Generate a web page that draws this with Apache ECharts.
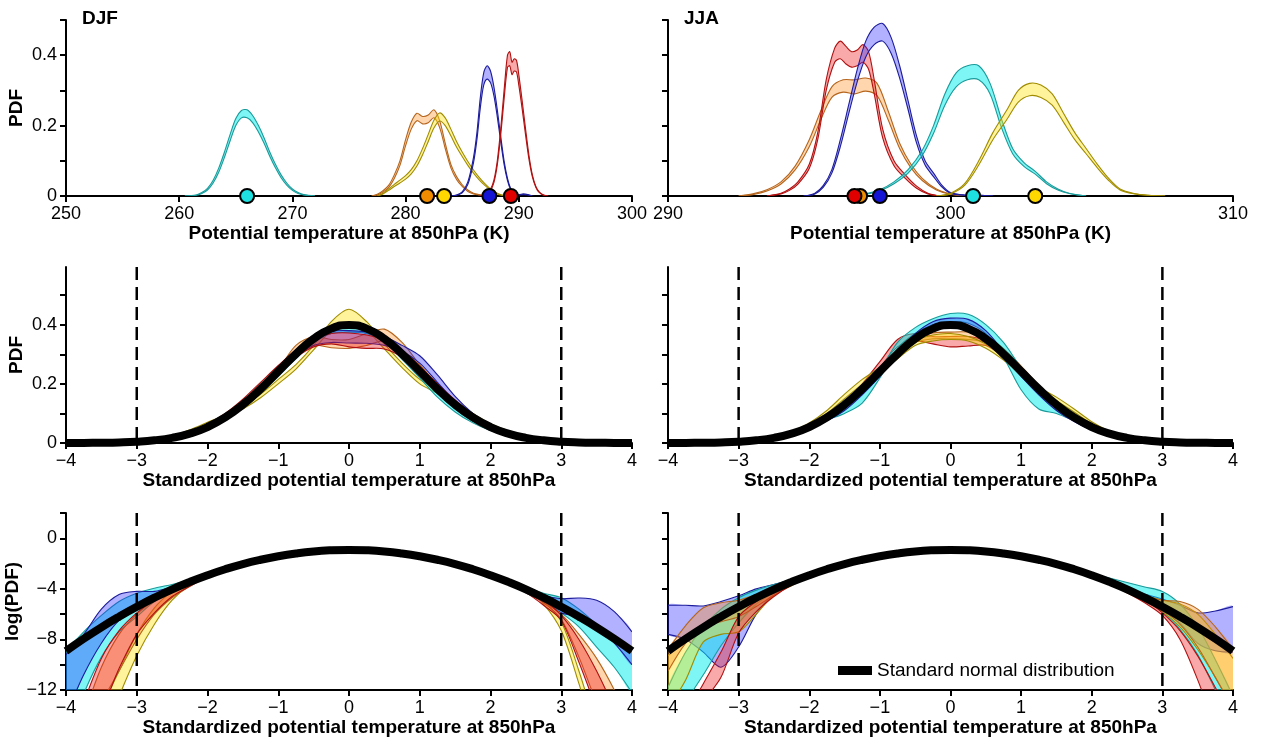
<!DOCTYPE html>
<html>
<head>
<meta charset="utf-8">
<script src="https://cdn.jsdelivr.net/npm/echarts@6/dist/echarts.min.js"></script>
<style>
  html, body { margin: 0; padding: 0; background: #fff; }
  #chart { width: 1262px; height: 740px; }
</style>
</head>
<body>
<div id="chart"></div>
<script>
// ---------- Potential temperature PDFs, DJF (K) ----------
const djfCyanX = [260.5,261.5,262,262.5,263,263.5,264,264.5,265,265.5,266,266.5,267,267.5,268,268.5,269,269.5,270,270.5,271,272];
const djfCyanHi = [0,0.003,0.01,0.022,0.045,0.08,0.125,0.175,0.22,0.243,0.245,0.228,0.2,0.165,0.125,0.09,0.06,0.037,0.02,0.01,0.004,0];
const djfCyanLo = [0,0.002,0.007,0.017,0.037,0.068,0.11,0.157,0.2,0.222,0.222,0.208,0.182,0.15,0.113,0.08,0.052,0.031,0.016,0.007,0.003,0];

const djfOrangeX = [277,277.5,278,278.5,279,279.5,280,280.5,281,281.5,282,282.5,283,283.5,284,284.5,285,285.5,286,286.5,287,288];
const djfOrangeHi = [0,0.005,0.015,0.03,0.06,0.1,0.16,0.21,0.235,0.226,0.23,0.245,0.215,0.15,0.09,0.055,0.032,0.017,0.008,0.004,0.001,0];
const djfOrangeLo = [0,0.003,0.011,0.024,0.05,0.087,0.143,0.19,0.214,0.205,0.208,0.222,0.195,0.135,0.08,0.047,0.027,0.013,0.006,0.003,0.001,0];

const djfYellowX = [277.5,278,278.5,279,279.5,280,280.5,281,281.5,282,282.5,283,283.5,284,284.5,285,285.5,286,286.5,287,287.5,288,288.5,289.5];
const djfYellowHi = [0,0.008,0.02,0.033,0.045,0.058,0.075,0.1,0.135,0.175,0.215,0.236,0.222,0.19,0.155,0.125,0.098,0.074,0.053,0.035,0.02,0.009,0.003,0];
const djfYellowLo = [0,0.006,0.016,0.027,0.037,0.048,0.063,0.085,0.117,0.155,0.193,0.213,0.2,0.171,0.139,0.112,0.087,0.065,0.046,0.03,0.017,0.007,0.002,0];

const djfBlueX = [284,284.5,285,285.5,286,286.3,286.6,286.9,287.2,287.5,287.8,288.1,288.4,288.7,289,289.3,289.6,290,290.4,290.8,291.2];
const djfBlueHi = [0,0.003,0.012,0.04,0.11,0.18,0.28,0.35,0.37,0.355,0.31,0.245,0.17,0.1,0.05,0.02,0.008,0.004,0.006,0.004,0];
const djfBlueLo = [0,0.002,0.009,0.033,0.095,0.16,0.25,0.315,0.332,0.322,0.285,0.225,0.155,0.09,0.044,0.017,0.006,0.003,0.004,0.003,0];

const djfRedX = [286.5,287,287.5,287.8,288.1,288.4,288.7,289,289.2,289.4,289.6,289.8,290,290.3,290.6,290.9,291.2,291.5,291.8,292.2,292.6];
const djfRedHi = [0,0.004,0.02,0.045,0.1,0.19,0.3,0.4,0.41,0.38,0.39,0.385,0.345,0.27,0.19,0.115,0.06,0.028,0.012,0.003,0];
const djfRedLo = [0,0.003,0.016,0.038,0.088,0.172,0.275,0.365,0.37,0.345,0.355,0.352,0.315,0.247,0.173,0.104,0.054,0.025,0.01,0.002,0];

// mean temperature of each region (cyan, orange, yellow, blue, red)
const djfMeans = [266.0, 281.9, 283.4, 287.4, 289.3];

// ---------- Potential temperature PDFs, JJA (K) ----------
const jjaRedX = [293.5,294,294.3,294.6,295,295.3,295.6,295.9,296.1,296.3,296.5,296.7,296.9,297.1,297.3,297.6,298,298.4,298.8,299.2,299.6];
const jjaRedHi = [0,0.008,0.02,0.04,0.09,0.18,0.33,0.42,0.44,0.425,0.41,0.415,0.43,0.41,0.33,0.19,0.1,0.06,0.028,0.008,0];
const jjaRedLo = [0,0.006,0.016,0.034,0.078,0.16,0.3,0.38,0.39,0.375,0.366,0.37,0.38,0.36,0.29,0.165,0.086,0.05,0.022,0.006,0];

const jjaBlueX = [294.8,295.2,295.5,295.8,296.1,296.4,296.7,297,297.3,297.6,297.9,298.2,298.5,298.8,299.1,299.4,299.7,300,300.5,301,301.5];
const jjaBlueHi = [0,0.008,0.03,0.075,0.16,0.26,0.36,0.44,0.48,0.49,0.45,0.37,0.27,0.17,0.1,0.065,0.03,0.01,0.003,0.003,0];
const jjaBlueLo = [0,0.006,0.025,0.065,0.14,0.235,0.325,0.395,0.43,0.44,0.405,0.335,0.245,0.15,0.088,0.055,0.025,0.008,0.002,0.002,0];

const jjaOrangeX = [292.5,293,293.5,294,294.5,295,295.4,295.8,296.2,296.6,297,297.4,297.8,298.2,298.6,299,299.5,300,300.5];
const jjaOrangeHi = [0,0.006,0.018,0.04,0.085,0.16,0.24,0.31,0.33,0.33,0.335,0.32,0.24,0.15,0.09,0.05,0.02,0.006,0];
const jjaOrangeLo = [0,0.004,0.014,0.034,0.074,0.14,0.215,0.28,0.295,0.29,0.298,0.285,0.215,0.135,0.08,0.044,0.017,0.005,0];

const jjaCyanX = [296.5,297,297.5,298,298.5,299,299.4,299.8,300.2,300.6,301,301.4,301.8,302.2,302.6,303,303.4,303.8,304.2,304.8];
const jjaCyanHi = [0,0.006,0.018,0.04,0.075,0.13,0.2,0.29,0.35,0.37,0.37,0.32,0.22,0.135,0.095,0.07,0.04,0.02,0.008,0];
const jjaCyanLo = [0,0.005,0.015,0.035,0.065,0.115,0.178,0.258,0.31,0.33,0.33,0.29,0.195,0.12,0.084,0.062,0.035,0.017,0.007,0];

const jjaYellowX = [299.5,300,300.5,301,301.5,302,302.4,302.8,303.2,303.6,304,304.4,304.8,305.2,305.6,306,306.5,307,307.6];
const jjaYellowHi = [0,0.008,0.035,0.1,0.18,0.245,0.3,0.32,0.315,0.29,0.235,0.18,0.135,0.09,0.05,0.02,0.007,0.002,0];
const jjaYellowLo = [0,0.006,0.03,0.088,0.16,0.218,0.267,0.285,0.28,0.258,0.21,0.16,0.12,0.08,0.044,0.017,0.006,0.002,0];

// mean temperature of each region (cyan, orange, yellow, blue, red)
const jjaMeans = [300.8, 296.8, 303.0, 297.5, 296.6];

// ---------- Standardized PDFs ----------
const midX = [-3,-2.75,-2.5,-2.25,-2,-1.75,-1.5,-1.25,-1,-0.75,-0.5,-0.25,0,0.25,0.5,0.75,1,1.25,1.5,1.75,2,2.25,2.5,2.75,3];

const djfStdCyanHi = [0.004,0.008,0.016,0.03,0.052,0.085,0.128,0.18,0.24,0.3,0.36,0.39,0.398,0.393,0.36,0.3,0.235,0.168,0.115,0.075,0.047,0.027,0.014,0.007,0.003];
const djfStdCyanLo = [0.003,0.007,0.014,0.027,0.047,0.078,0.118,0.168,0.225,0.285,0.34,0.37,0.375,0.37,0.34,0.283,0.22,0.155,0.105,0.068,0.042,0.024,0.012,0.006,0.003];
const djfStdBlueHi = [0.003,0.007,0.015,0.028,0.05,0.082,0.127,0.185,0.25,0.315,0.36,0.378,0.38,0.375,0.36,0.33,0.295,0.23,0.158,0.1,0.056,0.03,0.015,0.007,0.003];
const djfStdBlueLo = [0.002,0.006,0.013,0.025,0.046,0.076,0.118,0.17,0.23,0.29,0.33,0.34,0.338,0.337,0.33,0.31,0.27,0.205,0.14,0.088,0.05,0.027,0.013,0.006,0.002];
const djfStdRedHi = [0.005,0.01,0.02,0.037,0.064,0.1,0.148,0.205,0.262,0.315,0.35,0.37,0.372,0.365,0.35,0.315,0.26,0.2,0.145,0.097,0.062,0.036,0.019,0.009,0.004];
const djfStdRedLo = [0.004,0.008,0.017,0.032,0.056,0.088,0.132,0.185,0.24,0.29,0.325,0.335,0.325,0.32,0.318,0.29,0.24,0.182,0.13,0.086,0.054,0.031,0.016,0.008,0.003];
const djfStdOrangeHi = [0.005,0.01,0.02,0.036,0.06,0.092,0.135,0.19,0.25,0.33,0.36,0.35,0.35,0.37,0.385,0.34,0.265,0.2,0.145,0.1,0.062,0.035,0.018,0.008,0.004];
const djfStdOrangeLo = [0.004,0.008,0.017,0.031,0.053,0.082,0.12,0.17,0.225,0.3,0.33,0.322,0.32,0.33,0.345,0.31,0.24,0.18,0.13,0.09,0.055,0.031,0.016,0.007,0.003];
const djfStdYellowHi = [0.006,0.012,0.024,0.045,0.07,0.095,0.125,0.165,0.215,0.265,0.33,0.41,0.452,0.41,0.335,0.27,0.215,0.18,0.14,0.1,0.065,0.042,0.022,0.01,0.004];
const djfStdYellowLo = [0.004,0.009,0.019,0.038,0.062,0.086,0.115,0.153,0.2,0.25,0.315,0.38,0.405,0.38,0.318,0.255,0.2,0.168,0.13,0.092,0.058,0.036,0.018,0.008,0.003];

const jjaStdCyanHi = [0.004,0.008,0.017,0.032,0.056,0.09,0.128,0.17,0.245,0.34,0.39,0.42,0.438,0.435,0.4,0.34,0.255,0.185,0.13,0.09,0.056,0.032,0.017,0.008,0.004];
const jjaStdCyanLo = [0.003,0.007,0.015,0.028,0.05,0.078,0.1,0.135,0.22,0.32,0.37,0.4,0.41,0.405,0.37,0.29,0.18,0.115,0.1,0.075,0.048,0.028,0.015,0.007,0.003];
const jjaStdBlueHi = [0.004,0.008,0.016,0.03,0.052,0.082,0.12,0.175,0.24,0.31,0.37,0.41,0.422,0.418,0.38,0.31,0.24,0.175,0.12,0.08,0.048,0.028,0.015,0.007,0.003];
const jjaStdBlueLo = [0.003,0.007,0.014,0.027,0.047,0.075,0.11,0.163,0.225,0.295,0.35,0.385,0.39,0.385,0.355,0.295,0.225,0.163,0.11,0.073,0.044,0.025,0.013,0.006,0.003];
const jjaStdRedHi = [0.005,0.01,0.019,0.034,0.057,0.09,0.135,0.2,0.275,0.35,0.37,0.36,0.36,0.36,0.345,0.3,0.24,0.18,0.13,0.088,0.055,0.032,0.017,0.008,0.004];
const jjaStdRedLo = [0.004,0.008,0.016,0.03,0.051,0.082,0.124,0.185,0.255,0.325,0.345,0.335,0.325,0.328,0.33,0.29,0.23,0.172,0.122,0.082,0.05,0.029,0.015,0.007,0.003];
const jjaStdOrangeHi = [0.004,0.009,0.018,0.033,0.056,0.088,0.13,0.185,0.245,0.305,0.355,0.372,0.375,0.375,0.36,0.32,0.26,0.195,0.135,0.09,0.056,0.032,0.017,0.008,0.004];
const jjaStdOrangeLo = [0.003,0.008,0.016,0.03,0.051,0.08,0.12,0.172,0.23,0.29,0.34,0.352,0.352,0.35,0.34,0.305,0.245,0.183,0.126,0.083,0.051,0.029,0.015,0.007,0.003];
const jjaStdYellowHi = [0.005,0.011,0.022,0.04,0.068,0.11,0.165,0.215,0.255,0.3,0.345,0.365,0.37,0.36,0.335,0.295,0.245,0.19,0.155,0.115,0.072,0.04,0.02,0.009,0.004];
const jjaStdYellowLo = [0.004,0.009,0.019,0.035,0.061,0.1,0.15,0.198,0.24,0.285,0.33,0.345,0.35,0.345,0.32,0.28,0.23,0.178,0.143,0.105,0.065,0.036,0.018,0.008,0.003];

// ---------- log(PDF) of standardized temperature ----------
const logX = [-4,-3.75,-3.5,-3.25,-3,-2.75,-2.5,-2.25,-2,-1.75,-1.5,-1.25,-1,-0.75,-0.5,-0.25,0,0.25,0.5,0.75,1,1.25,1.5,1.75,2,2.25,2.5,2.75,3,3.25,3.5,3.75,4];

const djfLogCyanHi = [-9.0,-7.4,-6.1,-5.0,-4.35,-3.95,-3.65,-3.3,-2.85,-2.4,-2.0,-1.66,-1.38,-1.16,-1.01,-0.92,-0.89,-0.92,-1.01,-1.17,-1.39,-1.68,-2.02,-2.42,-2.88,-3.35,-3.85,-4.35,-4.7,-5.6,-6.8,-7.9,-9.0];
const djfLogCyanLo = [-16,-12.3,-9.4,-7.4,-6.2,-5.0,-4.25,-3.6,-3.0,-2.52,-2.1,-1.75,-1.46,-1.24,-1.08,-0.99,-0.96,-0.99,-1.08,-1.24,-1.46,-1.75,-2.1,-2.52,-3.0,-3.55,-4.2,-5.0,-5.9,-7.0,-8.6,-10.2,-12.2];
const djfLogBlueHi = [-9.2,-7.6,-5.6,-4.45,-4.2,-4.2,-3.85,-3.38,-2.87,-2.42,-2.01,-1.67,-1.39,-1.17,-1.02,-0.93,-0.9,-0.93,-1.02,-1.17,-1.39,-1.67,-2.01,-2.42,-2.88,-3.4,-3.95,-4.5,-4.78,-4.72,-4.9,-5.8,-7.4];
const djfLogBlueLo = [-14,-10.8,-8.3,-6.5,-5.6,-4.9,-4.25,-3.58,-3.0,-2.5,-2.08,-1.74,-1.46,-1.24,-1.08,-0.99,-0.96,-0.99,-1.08,-1.24,-1.46,-1.74,-2.08,-2.5,-3.0,-3.55,-4.2,-5.0,-5.9,-6.2,-7.0,-8.3,-10.0];
const djfLogRedHi = [-17,-13,-9.5,-7.3,-5.9,-4.85,-4.15,-3.5,-2.9,-2.41,-2.0,-1.66,-1.38,-1.16,-1.0,-0.92,-0.89,-0.92,-1.0,-1.16,-1.38,-1.66,-2.0,-2.41,-2.9,-3.45,-4.1,-4.85,-6.1,-8.0,-10.5,-13.5,-17];
const djfLogRedLo = [-19,-15,-13.5,-10.3,-7.6,-5.9,-4.6,-3.8,-3.05,-2.53,-2.1,-1.76,-1.47,-1.25,-1.09,-1.0,-0.97,-1.0,-1.09,-1.25,-1.47,-1.76,-2.1,-2.53,-3.02,-3.6,-4.3,-5.3,-6.5,-9.8,-13.5,-17,-20];
const djfLogOrangeHi = [-18,-14,-10.2,-7.6,-6.0,-4.95,-4.2,-3.5,-2.88,-2.4,-1.99,-1.65,-1.37,-1.15,-1.0,-0.91,-0.88,-0.91,-1.0,-1.15,-1.37,-1.65,-1.99,-2.4,-2.88,-3.4,-4.15,-5.0,-6.0,-7.6,-9.5,-12,-15];
const djfLogOrangeLo = [-20,-16,-13,-10.5,-8.0,-6.0,-4.7,-3.8,-3.04,-2.52,-2.09,-1.75,-1.46,-1.24,-1.08,-0.99,-0.96,-0.99,-1.08,-1.24,-1.46,-1.75,-2.09,-2.52,-3.02,-3.58,-4.3,-5.1,-6.4,-9.4,-13,-16,-19];
const djfLogYellowHi = [-20,-17,-13.5,-10.5,-7.6,-5.5,-4.2,-3.35,-2.85,-2.4,-2.0,-1.66,-1.38,-1.16,-1.01,-0.92,-0.89,-0.92,-1.01,-1.16,-1.38,-1.66,-2.0,-2.4,-2.85,-3.3,-3.8,-4.9,-6.6,-10.5,-15,-19,-22];
const djfLogYellowLo = [-22,-19,-16,-12.5,-9.3,-6.8,-4.9,-3.7,-3.0,-2.5,-2.08,-1.74,-1.45,-1.23,-1.07,-0.98,-0.95,-0.98,-1.07,-1.23,-1.45,-1.74,-2.08,-2.5,-3.0,-3.55,-4.0,-5.2,-7.3,-11.5,-16,-20,-23];

const jjaLogBlueHi = [-5.3,-5.3,-5.35,-5.0,-4.55,-4.0,-3.65,-3.3,-2.85,-2.4,-2.0,-1.66,-1.38,-1.16,-1.0,-0.91,-0.88,-0.91,-1.0,-1.16,-1.38,-1.66,-2.0,-2.4,-2.86,-3.35,-3.9,-4.4,-4.8,-5.3,-5.9,-5.75,-5.4];
const jjaLogBlueLo = [-7.6,-8.0,-9.0,-10.2,-8.6,-6.0,-4.4,-3.6,-3.0,-2.52,-2.1,-1.76,-1.47,-1.25,-1.09,-1.0,-0.97,-1.0,-1.09,-1.25,-1.47,-1.76,-2.1,-2.52,-3.0,-3.55,-4.2,-4.95,-5.7,-6.7,-8.3,-8.9,-9.0];
const jjaLogCyanHi = [-11.8,-9.0,-7.0,-5.6,-4.7,-4.1,-3.65,-3.25,-2.82,-2.38,-1.98,-1.64,-1.36,-1.14,-0.99,-0.9,-0.87,-0.9,-0.99,-1.14,-1.36,-1.64,-1.98,-2.38,-2.8,-3.15,-3.5,-3.85,-4.2,-5.2,-7.0,-9.6,-12.5];
const jjaLogCyanLo = [-16,-13,-10.8,-8.5,-6.7,-5.2,-4.3,-3.6,-3.0,-2.52,-2.1,-1.76,-1.47,-1.25,-1.09,-1.0,-0.97,-1.0,-1.09,-1.25,-1.47,-1.76,-2.1,-2.52,-3.0,-3.55,-4.1,-4.8,-5.8,-7.2,-9.2,-12.0,-15];
const jjaLogRedHi = [-17,-14,-11.5,-9.0,-6.2,-5.0,-4.1,-3.45,-2.88,-2.42,-2.02,-1.68,-1.4,-1.18,-1.02,-0.93,-0.9,-0.93,-1.02,-1.18,-1.4,-1.68,-2.02,-2.42,-2.9,-3.45,-4.1,-4.8,-5.9,-7.3,-9.3,-11.8,-14.5];
const jjaLogRedLo = [-20,-16,-13,-11.0,-7.5,-5.8,-4.6,-3.7,-3.02,-2.52,-2.1,-1.76,-1.47,-1.25,-1.09,-1.0,-0.97,-1.0,-1.09,-1.25,-1.47,-1.76,-2.1,-2.52,-3.02,-3.6,-4.3,-5.1,-6.1,-8.0,-11.2,-15,-19];
const jjaLogOrangeHi = [-8.8,-6.9,-5.5,-5.1,-4.9,-4.45,-3.95,-3.4,-2.88,-2.42,-2.01,-1.67,-1.39,-1.17,-1.01,-0.92,-0.89,-0.92,-1.01,-1.17,-1.39,-1.67,-2.01,-2.42,-2.88,-3.4,-3.95,-4.5,-4.9,-5.0,-5.6,-7.0,-8.8];
const jjaLogOrangeLo = [-10.5,-8.3,-7.0,-6.6,-6.2,-5.4,-4.5,-3.7,-3.0,-2.52,-2.1,-1.76,-1.47,-1.25,-1.09,-1.0,-0.97,-1.0,-1.09,-1.25,-1.47,-1.76,-2.1,-2.52,-3.0,-3.55,-4.2,-4.9,-5.7,-6.8,-8.6,-11.0,-13.5];
const jjaLogYellowHi = [-9.3,-8.0,-7.0,-6.0,-5.2,-4.6,-3.9,-3.35,-2.86,-2.42,-2.02,-1.68,-1.4,-1.18,-1.02,-0.93,-0.9,-0.93,-1.02,-1.18,-1.4,-1.68,-2.02,-2.42,-2.9,-3.45,-4.0,-4.5,-4.9,-5.2,-6.0,-7.6,-9.5];
const jjaLogYellowLo = [-13.5,-11.2,-8.2,-7.6,-7.4,-6.0,-4.5,-3.75,-3.05,-2.55,-2.12,-1.78,-1.49,-1.27,-1.11,-1.02,-0.99,-1.02,-1.11,-1.27,-1.49,-1.78,-2.12,-2.55,-3.05,-3.6,-4.3,-5.0,-5.8,-7.0,-8.8,-11.0,-13.5];

// ---------- Standard normal reference curve ----------
const normX = [-4,-3.75,-3.5,-3.25,-3,-2.75,-2.5,-2.25,-2,-1.75,-1.5,-1.25,-1,-0.75,-0.5,-0.25,0,0.25,0.5,0.75,1,1.25,1.5,1.75,2,2.25,2.5,2.75,3,3.25,3.5,3.75,4];
const normPdf = [0.0001,0.0004,0.0009,0.0020,0.0044,0.0091,0.0175,0.0317,0.0540,0.0863,0.1295,0.1826,0.2420,0.3011,0.3521,0.3867,0.3989,0.3867,0.3521,0.3011,0.2420,0.1826,0.1295,0.0863,0.0540,0.0317,0.0175,0.0091,0.0044,0.0020,0.0009,0.0004,0.0001];
const normLog = [-8.92,-7.95,-7.04,-6.20,-5.42,-4.70,-4.04,-3.45,-2.92,-2.45,-2.04,-1.70,-1.42,-1.20,-1.04,-0.95,-0.92,-0.95,-1.04,-1.20,-1.42,-1.70,-2.04,-2.45,-2.92,-3.45,-4.04,-4.70,-5.42,-6.20,-7.04,-7.95,-8.92];

// +/- 3 sigma guide lines
const sigmaX = [-3, 3];

// axis ticks and labels
const topTicks = [0, 0.1, 0.2, 0.3, 0.4, 0.5];
const topLabels = [0, 0.2, 0.4];
const midTicks = [0, 0.1, 0.2, 0.3, 0.4, 0.5];
const midLabels = [0, 0.2, 0.4];
const logTicks = [-12, -10, -8, -6, -4, -2, 0, 2];
const logLabels = [-12, -8, -4, 0];

// ---------- styling ----------
const FONT = 'Liberation Sans';
const COL = {
  cyan:   { fill: 'rgba(0,238,238,0.5)',   edge: '#1a9a9a', dot: '#1ee0e0' },
  orange: { fill: 'rgba(255,140,30,0.36)', edge: '#b5651d', dot: '#f08c00' },
  yellow: { fill: 'rgba(255,226,20,0.42)', edge: '#a08c00', dot: '#ffd800' },
  blue:   { fill: 'rgba(40,40,255,0.36)',  edge: '#1c1c9c', dot: '#1414d4' },
  red:    { fill: 'rgba(240,30,30,0.38)',  edge: '#b01010', dot: '#e00000' }
};

const grids = [
  { left: 66,  top: 20,  width: 566, height: 176 },
  { left: 668, top: 20,  width: 565, height: 176 },
  { left: 66,  top: 267, width: 566, height: 176 },
  { left: 668, top: 267, width: 565, height: 176 },
  { left: 66,  top: 513, width: 566, height: 177 },
  { left: 668, top: 513, width: 565, height: 177 }
];

const minus = v => String(v).replace('-', '\u2212');
const axisLine = { onZero: false, lineStyle: { color: '#000', width: 2 } };
const nameStyle = { fontFamily: FONT, fontSize: 19, fontWeight: 'bold', color: '#000' };
const labelStyle = { fontFamily: FONT, fontSize: 18, color: '#000' };

function xAx(i, min, max, interval, name) {
  return {
    gridIndex: i, type: 'value', min: min, max: max, interval: interval,
    name: name, nameLocation: 'middle', nameGap: 28, nameTextStyle: nameStyle,
    axisLine: axisLine,
    axisTick: { length: 6, lineStyle: { color: '#000', width: 2 } },
    axisLabel: Object.assign({ margin: 9, formatter: minus }, labelStyle),
    splitLine: { show: false }
  };
}

function yAx(i, min, max, ticks, labels, name) {
  return {
    gridIndex: i, type: 'value', min: min, max: max,
    name: name || '', nameLocation: 'middle', nameGap: 40, nameTextStyle: nameStyle,
    axisLine: axisLine,
    axisTick: { length: 6, customValues: ticks, lineStyle: { color: '#000', width: 2 } },
    axisLabel: labels
      ? Object.assign({ margin: 9, customValues: labels, formatter: minus }, labelStyle)
      : { show: false },
    splitLine: { show: false }
  };
}

// shaded uncertainty band between lo and hi, outlined in the region colour
function band(panel, xs, lo, hi, c) {
  return {
    type: 'custom', xAxisIndex: panel, yAxisIndex: panel, clip: true, silent: true, z: 2,
    data: xs.map((x, k) => [x, lo[k], hi[k]]),
    encode: { x: 0, y: [1, 2] },
    renderItem: function (params, api) {
      if (params.dataIndex !== 0) return null;
      const up = xs.map((x, k) => api.coord([x, hi[k]]));
      const dn = xs.map((x, k) => api.coord([x, lo[k]]));
      return {
        type: 'group',
        children: [
          { type: 'polygon', shape: { points: up.concat(dn.slice().reverse()), smooth: 0.3 },
            style: { fill: c.fill, stroke: null } },
          { type: 'polyline', shape: { points: up, smooth: 0.3 },
            style: { fill: null, stroke: c.edge, lineWidth: 1.1 } },
          { type: 'polyline', shape: { points: dn, smooth: 0.3 },
            style: { fill: null, stroke: c.edge, lineWidth: 1.1 } }
        ]
      };
    }
  };
}

function dots(panel, means, colors) {
  return {
    type: 'scatter', xAxisIndex: panel, yAxisIndex: panel, silent: true, z: 10,
    symbol: 'circle', symbolSize: 14,
    data: means.map((m, k) => ({ value: [m, 0], itemStyle: { color: colors[k] } })),
    itemStyle: { borderColor: '#000', borderWidth: 2, opacity: 1 }
  };
}

function normal(panel, ys) {
  return {
    type: 'line', name: 'Standard normal distribution', xAxisIndex: panel, yAxisIndex: panel,
    data: normX.map((x, k) => [x, ys[k]]), smooth: true, symbol: 'none', silent: true, z: 6,
    lineStyle: { color: '#000', width: 8 }, itemStyle: { color: '#000' }
  };
}

function guides(panel, yMin, yMax) {
  return sigmaX.map(x => ({
    type: 'line', xAxisIndex: panel, yAxisIndex: panel, silent: true, z: 5,
    data: [[x, yMax], [x, yMin]], symbol: 'none',
    lineStyle: { color: '#000', width: 2.5, type: [13, 7] }
  }));
}

const dotColors = [COL.cyan.dot, COL.orange.dot, COL.yellow.dot, COL.blue.dot, COL.red.dot];

const series = [
  // DJF raw PDFs
  band(0, djfCyanX, djfCyanLo, djfCyanHi, COL.cyan),
  band(0, djfOrangeX, djfOrangeLo, djfOrangeHi, COL.orange),
  band(0, djfYellowX, djfYellowLo, djfYellowHi, COL.yellow),
  band(0, djfBlueX, djfBlueLo, djfBlueHi, COL.blue),
  band(0, djfRedX, djfRedLo, djfRedHi, COL.red),
  dots(0, djfMeans, dotColors),
  // JJA raw PDFs
  band(1, jjaOrangeX, jjaOrangeLo, jjaOrangeHi, COL.orange),
  band(1, jjaRedX, jjaRedLo, jjaRedHi, COL.red),
  band(1, jjaBlueX, jjaBlueLo, jjaBlueHi, COL.blue),
  band(1, jjaCyanX, jjaCyanLo, jjaCyanHi, COL.cyan),
  band(1, jjaYellowX, jjaYellowLo, jjaYellowHi, COL.yellow),
  dots(1, jjaMeans, dotColors),
  // DJF standardized
  band(2, midX, djfStdYellowLo, djfStdYellowHi, COL.yellow),
  band(2, midX, djfStdOrangeLo, djfStdOrangeHi, COL.orange),
  band(2, midX, djfStdCyanLo, djfStdCyanHi, COL.cyan),
  band(2, midX, djfStdBlueLo, djfStdBlueHi, COL.blue),
  band(2, midX, djfStdRedLo, djfStdRedHi, COL.red),
  ...guides(2, 0, 0.595),
  normal(2, normPdf),
  // JJA standardized
  band(3, midX, jjaStdRedLo, jjaStdRedHi, COL.red),
  band(3, midX, jjaStdOrangeLo, jjaStdOrangeHi, COL.orange),
  band(3, midX, jjaStdYellowLo, jjaStdYellowHi, COL.yellow),
  band(3, midX, jjaStdCyanLo, jjaStdCyanHi, COL.cyan),
  band(3, midX, jjaStdBlueLo, jjaStdBlueHi, COL.blue),
  ...guides(3, 0, 0.595),
  normal(3, normPdf),
  // DJF log
  band(4, logX, djfLogCyanLo, djfLogCyanHi, COL.cyan),
  band(4, logX, djfLogBlueLo, djfLogBlueHi, COL.blue),
  band(4, logX, djfLogYellowLo, djfLogYellowHi, COL.yellow),
  band(4, logX, djfLogOrangeLo, djfLogOrangeHi, COL.orange),
  band(4, logX, djfLogRedLo, djfLogRedHi, COL.red),
  ...guides(4, -12, 2),
  normal(4, normLog),
  // JJA log
  band(5, logX, jjaLogBlueLo, jjaLogBlueHi, COL.blue),
  band(5, logX, jjaLogCyanLo, jjaLogCyanHi, COL.cyan),
  band(5, logX, jjaLogYellowLo, jjaLogYellowHi, COL.yellow),
  band(5, logX, jjaLogOrangeLo, jjaLogOrangeHi, COL.orange),
  band(5, logX, jjaLogRedLo, jjaLogRedHi, COL.red),
  ...guides(5, -12, 2),
  normal(5, normLog)
];

const chart = echarts.init(document.getElementById('chart'), null, { renderer: 'canvas' });
chart.setOption({
  animation: false,
  backgroundColor: '#fff',
  title: [
    { text: 'DJF', left: 82, top: 9, padding: 0, textStyle: nameStyle },
    { text: 'JJA', left: 684, top: 9, padding: 0, textStyle: nameStyle }
  ],
  legend: {
    data: ['Standard normal distribution'], left: 838, top: 661, padding: 0,
    icon: 'rect', itemWidth: 34, itemHeight: 9, selectedMode: false,
    textStyle: { fontFamily: FONT, fontSize: 19, color: '#000' }
  },
  grid: grids,
  xAxis: [
    xAx(0, 250, 300, 10, 'Potential temperature at 850hPa (K)'),
    xAx(1, 290, 310, 10, 'Potential temperature at 850hPa (K)'),
    xAx(2, -4, 4, 1, 'Standardized potential temperature at 850hPa'),
    xAx(3, -4, 4, 1, 'Standardized potential temperature at 850hPa'),
    xAx(4, -4, 4, 1, 'Standardized potential temperature at 850hPa'),
    xAx(5, -4, 4, 1, 'Standardized potential temperature at 850hPa')
  ],
  yAxis: [
    yAx(0, 0, 0.5, topTicks, topLabels, 'PDF'),
    yAx(1, 0, 0.5, topTicks, null),
    yAx(2, 0, 0.595, midTicks, midLabels, 'PDF'),
    yAx(3, 0, 0.595, midTicks, null),
    yAx(4, -12, 2, logTicks, logLabels, 'log(PDF)'),
    yAx(5, -12, 2, logTicks, null)
  ],
  series: series
});
</script>
</body>
</html>
